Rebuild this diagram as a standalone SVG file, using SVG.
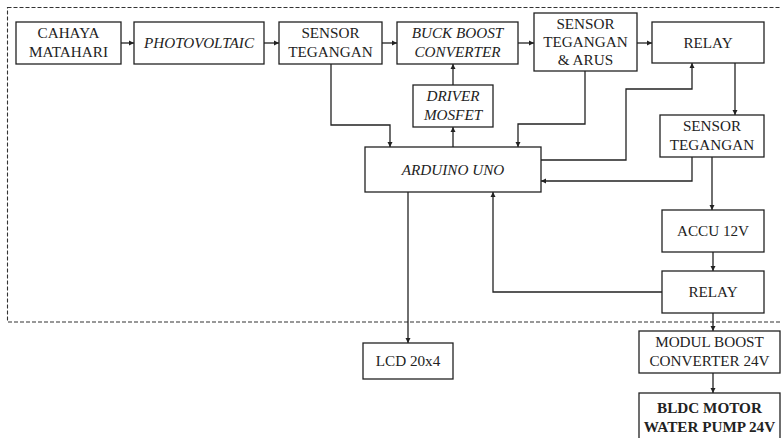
<svg xmlns="http://www.w3.org/2000/svg" width="781" height="438" viewBox="0 0 781 438">
<defs>
<marker id="ah" markerWidth="6" markerHeight="6" refX="5" refY="3" orient="auto" markerUnits="userSpaceOnUse">
<path d="M0,0.5 L5,3 L0,5.5 Z" fill="#222"/>
</marker>
<style>
.b{fill:#fff;stroke:#222;stroke-width:1.3}
.t{font-family:"Liberation Serif","Times New Roman",serif;font-size:15.2px;fill:#222;text-anchor:middle}
.i{font-style:italic}
.bo{font-weight:bold}
.c{fill:none;stroke:#222;stroke-width:1.3;marker-end:url(#ah)}
</style>
</defs>
<rect x="7.5" y="7.5" width="790" height="314.5" fill="none" stroke="#333" stroke-width="1.1" stroke-dasharray="4,2"/>
<g id="connectors">
<path class="c" d="M121,43 H134"/>
<path class="c" d="M264,43 H279"/>
<path class="c" d="M382,43 H397"/>
<path class="c" d="M518,43 H534"/>
<path class="c" d="M637,43 H652"/>
<path class="c" d="M331,64 V125 H390 V147"/>
<path class="c" d="M453,85 V64"/>
<path class="c" d="M453,147 V127"/>
<path class="c" d="M585,71 V124 H518 V147"/>
<path class="c" d="M541,160 H626 V89 H692 V63"/>
<path class="c" d="M735,63 V115"/>
<path class="c" d="M692,157 V181 H541"/>
<path class="c" d="M712,157 V210"/>
<path class="c" d="M713,252 V271"/>
<path class="c" d="M662,292 H493 V192"/>
<path class="c" d="M408,192 V343"/>
<path class="c" d="M713,313 V331"/>
<path class="c" d="M713,373 V393"/>
</g>
<g id="cahaya"><rect class="b" x="16" y="22" width="105" height="42"/><text class="t" x="68.5" y="38">CAHAYA</text><text class="t" x="68.5" y="57">MATAHARI</text></g>
<g id="pv"><rect class="b" x="134" y="22" width="130" height="42"/><text class="t i" x="199" y="48">PHOTOVOLTAIC</text></g>
<g id="sensor1"><rect class="b" x="279" y="22" width="103" height="42"/><text class="t" x="330.5" y="38">SENSOR</text><text class="t" x="330.5" y="57">TEGANGAN</text></g>
<g id="buck"><rect class="b" x="397" y="22" width="121" height="42"/><text class="t i" x="457.5" y="38">BUCK BOOST</text><text class="t i" x="457.5" y="57">CONVERTER</text></g>
<g id="sensor2"><rect class="b" x="534" y="13" width="103" height="58"/><text class="t" x="585.5" y="29">SENSOR</text><text class="t" x="585.5" y="47">TEGANGAN</text><text class="t" x="585.5" y="65">&amp; ARUS</text></g>
<g id="relay1"><rect class="b" x="652" y="22" width="112" height="41"/><text class="t" x="708" y="48">RELAY</text></g>
<g id="driver"><rect class="b" x="413" y="85" width="80" height="42"/><text class="t i" x="453" y="101">DRIVER</text><text class="t i" x="453" y="120">MOSFET</text></g>
<g id="arduino"><rect class="b" x="365" y="147" width="176" height="45"/><text class="t i" x="453" y="175">ARDUINO UNO</text></g>
<g id="sensor3"><rect class="b" x="660" y="115" width="104" height="42"/><text class="t" x="712" y="131">SENSOR</text><text class="t" x="712" y="150">TEGANGAN</text></g>
<g id="accu"><rect class="b" x="662" y="210" width="102" height="42"/><text class="t" x="713" y="236">ACCU 12V</text></g>
<g id="relay2"><rect class="b" x="662" y="271" width="102" height="42"/><text class="t" x="713" y="297">RELAY</text></g>
<g id="lcd"><rect class="b" x="363" y="343" width="90" height="36"/><text class="t" x="408" y="366">LCD 20x4</text></g>
<g id="modul"><rect class="b" x="639" y="331" width="141" height="42"/><text class="t" x="709.5" y="347">MODUL BOOST</text><text class="t" x="709.5" y="366">CONVERTER 24V</text></g>
<g id="bldc"><rect class="b" x="639" y="393" width="141" height="50"/><text class="t bo" x="709.5" y="413">BLDC MOTOR</text><text class="t bo" x="709.5" y="432">WATER PUMP 24V</text></g>
</svg>
